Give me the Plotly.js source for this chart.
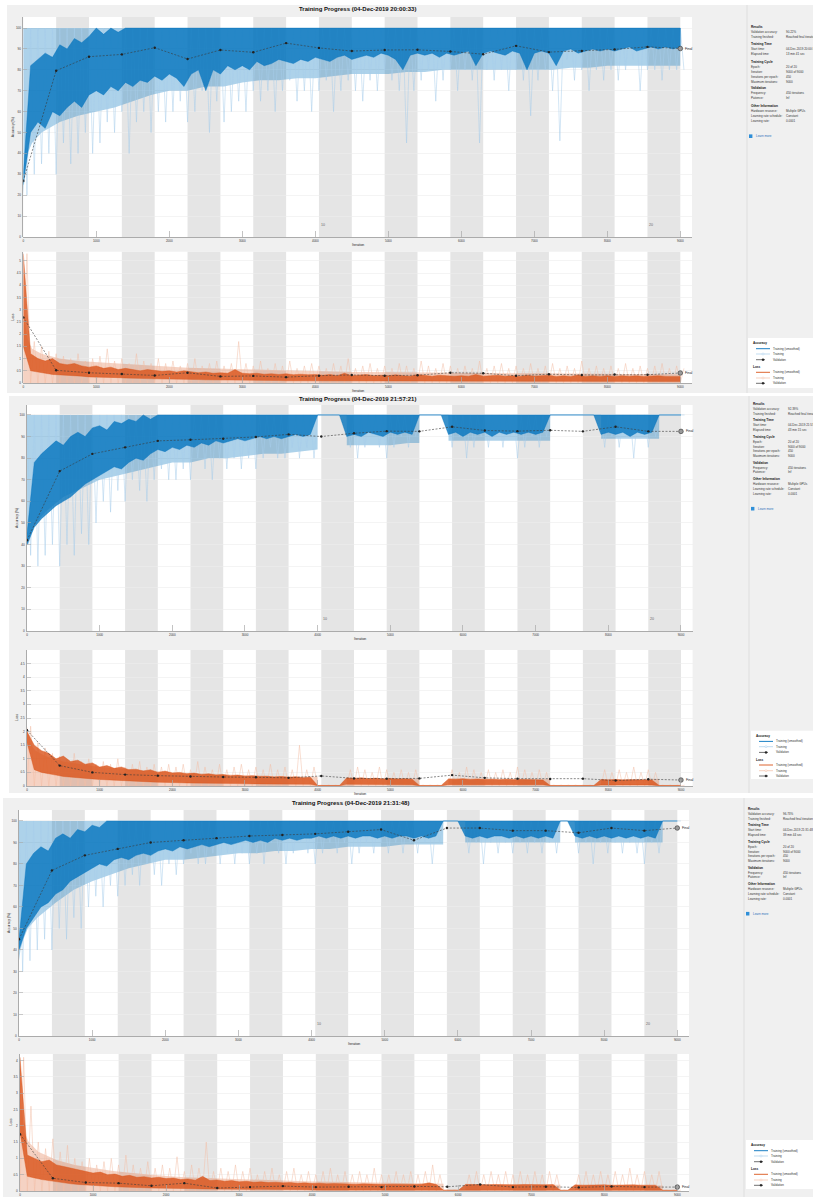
<!DOCTYPE html>
<html><head><meta charset="utf-8">
<script src="https://cdn.plot.ly/plotly-3.0.1.min.js"></script>
<style>html,body{margin:0;padding:0;background:#fff}#chart{width:813px;height:1197px}</style>
</head><body><div id="chart"></div>
<script>
// ---------------- DATA ----------------
const iterationsPerEpoch = 450;
const numEpochs = 20;
const maxIterations = 9000;
const validationFrequency = 450;
const rawStep = 100;            // spacing of the per-100-iteration readings
const xTickVals = [0,1000,2000,3000,4000,5000,6000,7000,8000,9000];
const epochLabels = [10, 20];
const titles = ["Training Progress (04-Dec-2019 20:00:33)","Training Progress (04-Dec-2019 21:57:21)","Training Progress (04-Dec-2019 21:31:48)"];

// iteration grids of the dense light (raw) mass readings
const p1Iter = [0,20,60,120,250,500,750,1000,1250,1500,1750,2000,2250,2500,2750,3000,3250,3500,3750,4000,4250,4500,4750,5000,5250,5500,5750,6000,6250,6500,6750,7000,7250,7500,7750,8000,8250,8500,8750,9000];
const p2Iter = [0,20,60,120,250,500,750,1000,1250,1500,1750,2000,2250,2500,2750,3000,3250,3500,3750,3999,4001,4399,4401,4750,5000,5250,5399,5401,5799,5801,6000,6250,6500,6750,7000,7199,7201,7899,7901,8250,8500,8699,8701,9000];
const p3Iter = [0,20,60,120,250,500,750,1000,1250,1500,1750,2000,2250,2500,2750,3000,3250,3500,3750,4000,4250,4500,4750,5000,5250,5500,5799,5801,6099,6101,6250,6500,6750,7000,7250,7399,7401,7599,7601,7750,8000,8250,8500,8799,8801,9000];

// ===== Run 1 =====
const p1AccBandLo = [20,30,40,45,50,55,58,60,62,65,68,70,70,72,72,74,75,75,76,76,77,78,78,78,79,79,80,80,80,80,80,80,80,81,81,82,82,82,82,82];
const p1AccSpike = [20,30,35,40,30,45,35,40,50,40, 45,55,50,60,40,55,60,50,60,55, 60,65,55,60,70,50,65,55,60,65, 60,70,65,70,60,70,75,65,70,60, 70,75,60,70,75,70,65,75,70,80, 75,70,45,70,75,80,65,75,80,70, 80,75,45,80,75,80,70,80,75,58, 75,80,70,46,85,75,80,70,80,75, 80,75,80,85,70,80,80,75,80,80, 80];
const p1AccTop = [30,82,85,88,86,92,90,95,93,96, 100,97,100,98,100,100,100,100,100,100, 100,100,100,100,100,100,100,100,100,100, 100,100,100,100,100,100,100,100,100,100, 100,100,100,100,100,100,100,100,100,100, 100,100,100,100,100,100,100,100,100,100, 100,100,100,100,100,100,100,100,100,100, 100,100,100,100,100,100,100,100,100,100, 100,100,100,100,100,100,100,100,100,100, 100];
const p1AccBot = [25,50,55,52,60,58,62,65,62,68, 70,68,72,70,74,72,75,74,77,75, 78,76,72,78,80,70,80,78,82,80, 82,80,84,82,83,85,84,83,85,84, 86,85,84,86,87,85,86,87,86,88, 87,85,80,87,88,87,88,86,88,87, 88,89,82,88,89,88,87,89,88,80, 88,89,88,82,89,90,88,89,90,89, 90,89,90,91,89,90,91,90,91,90, 91];
const p1AccVal = [26.8,79.6,86.3,87.4,90.6,85.2,89.5,88.4,92.8,90.5,89.0,89.5,89.6,88.8,87.5,91.5,88.5,89.0,89.8,91.0,90.22];
const p1LossBandHi = [5.3,2.5,1.8,1.4,1.2,1.0,0.9,0.85,0.8,0.75,0.7,0.65,0.62,0.6,0.58,0.55,0.52,0.5,0.5,0.48,0.46,0.45,0.45,0.44,0.43,0.42,0.42,0.41,0.4,0.4,0.4,0.4,0.39,0.38,0.38,0.38,0.37,0.37,0.36,0.36];
const p1LossSpike = [5.3,1.7,1.5,1.3,1.2,1.1,1.0,1.2,0.9,1.0, 1.1,1.4,0.9,1.0,0.8,1.2,0.9,0.8,1.0,0.8, 0.9,0.7,0.8,1.0,0.7,0.8,0.9,0.7,0.8,1.7, 0.8,0.7,0.9,0.6,0.8,0.7,0.9,0.6,0.7,0.8, 0.7,0.6,0.8,0.7,1.0,0.6,0.7,0.8,0.6,0.7, 0.6,0.8,0.7,0.6,0.9,0.7,0.6,0.8,0.7,0.6, 0.7,0.6,0.9,0.6,0.7,0.8,0.6,0.7,0.6,0.8, 0.6,0.7,0.8,0.6,0.7,0.6,0.9,0.6,0.7,0.6, 0.7,0.6,0.8,0.6,0.7,0.6,0.7,0.8,0.6,0.7, 0.6];
const p1LossTop = [5.3,1.2,1.0,0.9,1.0,0.8,0.75,0.8,0.7,0.65, 0.7,0.6,0.65,0.55,0.6,0.55,0.5,0.55,0.5,0.48, 0.5,0.45,0.5,0.45,0.42,0.45,0.4,0.42,0.4,0.55, 0.4,0.38,0.4,0.36,0.38,0.35,0.38,0.34,0.36,0.34, 0.35,0.32,0.35,0.3,0.4,0.3,0.32,0.35,0.3,0.32, 0.3,0.34,0.3,0.28,0.35,0.3,0.28,0.32,0.3,0.28, 0.3,0.28,0.35,0.28,0.3,0.32,0.28,0.3,0.27,0.32, 0.28,0.3,0.32,0.27,0.3,0.27,0.33,0.27,0.3,0.27, 0.3,0.27,0.3,0.28,0.3,0.27,0.29,0.3,0.27,0.28, 0.27];
const p1LossBot = [1.5,0.5,0.45,0.4,0.35,0.35,0.3,0.3,0.28,0.25, 0.25,0.24,0.22,0.22,0.2,0.2,0.18,0.18,0.17,0.16, 0.16,0.15,0.15,0.14,0.14,0.13,0.13,0.12,0.12,0.12, 0.11,0.11,0.1,0.1,0.1,0.1,0.09,0.09,0.09,0.09, 0.08,0.08,0.08,0.08,0.08,0.08,0.08,0.08,0.08,0.08, 0.07,0.07,0.07,0.07,0.07,0.07,0.07,0.07,0.07,0.07, 0.07,0.06,0.06,0.06,0.06,0.06,0.06,0.06,0.06,0.06, 0.06,0.06,0.06,0.06,0.06,0.06,0.06,0.06,0.06,0.06, 0.06,0.06,0.06,0.06,0.06,0.06,0.06,0.06,0.06,0.06, 0.06];
const p1LossVal = [2.69,0.52,0.42,0.37,0.31,0.42,0.27,0.29,0.24,0.3,0.33,0.3,0.32,0.42,0.4,0.3,0.36,0.33,0.35,0.34,0.41];

// ===== Run 2 =====
const p2AccBandLo = [40,40,45,50,55, 62,66,70,72,74,76,78,78,80,80,81,82,82,83, 84,100,100,86, 86,86,87, 87,100,100,88, 88,88,88,88,88, 88,100,100,89, 89,89, 89,100,100];
const p2AccSpike = [35,30,35,40,30,40,35,45,40,50, 60,55,65,60,70,65,60,70,75,70, 70,75,70,80,75,70,80,75,80,75, 80,75,80,85,80,80,85,80,85,80, 100,100,100,100,85,80,85,90,85,80, 85,90,85,90,100,100,100,100,85,90, 80,85,90,85,90,85,90,80,85,90, 85,90,100,100,100,100,100,100,100,85, 90,85,90,80,90,85,90,100,100,100, 100];
const p2AccTop = [45,78,82,85,88,86,90,92,90,94, 95,93,97,96,98,97,100,98,100,100, 100,100,100,100,100,100,100,100,100,100, 100,100,100,100,100,100,100,100,100,100, 100,100,100,100,100,100,100,100,100,100, 100,100,100,100,100,100,100,100,100,100, 100,100,100,100,100,100,100,100,100,100, 100,100,100,100,100,100,100,100,100,100, 100,100,100,100,100,100,100,100,100,100, 100];
const p2AccBot = [40,48,52,55,58,60,62,65,68,70, 72,74,76,75,78,80,79,82,84,83, 85,84,86,85,87,86,88,87,88,89, 88,89,90,89,90,89,90,91,90,91, 100,100,100,100,90,91,90,92,91,90, 92,91,92,91,100,100,100,100,91,92, 90,92,91,92,90,92,91,92,91,92, 91,92,100,100,100,100,100,100,100,91, 92,91,92,90,92,91,92,100,100,100, 100];
const p2AccVal = [42,74,82,85,88,88.5,89,89.8,91,90,91.5,92.5,92.4,94.5,92.8,92.5,92.9,92.4,94.5,92.4,92.39];
const p2LossBandHi = [2.2,1.9,1.5,1.3,1.1, 0.9,0.8,0.7,0.65,0.6,0.55,0.5,0.48,0.45,0.42,0.4,0.38,0.36,0.35, 0.34,0.03,0.03,0.3, 0.3,0.3,0.28, 0.28,0.03,0.03,0.28, 0.28,0.27,0.27,0.27,0.26, 0.26,0.03,0.03,0.26, 0.26,0.26, 0.26,0.03,0.03];
const p2LossSpike = [2.2,1.6,1.4,1.2,1.1,1.0,1.2,0.9,1.0,0.8, 0.9,0.8,1.0,0.7,0.8,0.9,0.7,0.8,0.7,0.8, 0.7,0.8,0.6,0.9,0.7,0.6,0.8,0.6,0.7,0.8, 0.6,0.7,0.6,0.8,0.6,0.7,0.6,1.5,0.6,0.7, 0.03,0.03,0.03,0.03,0.6,0.7,0.6,0.5,0.7,0.6, 0.5,0.6,0.5,0.6,0.03,0.03,0.03,0.03,0.6,0.5, 0.7,0.6,0.5,0.6,0.5,0.6,0.5,0.7,0.6,0.5, 0.6,0.5,0.03,0.03,0.03,0.03,0.03,0.03,0.03,0.6, 0.5,0.6,0.5,0.7,0.5,0.6,0.5,0.03,0.03,0.03, 0.03];
const p2LossTop = [2.0,1.5,1.3,1.2,1.0,1.1,0.9,0.95,0.8,0.85, 0.7,0.75,0.65,0.7,0.6,0.62,0.55,0.6,0.5,0.55, 0.48,0.5,0.45,0.48,0.42,0.45,0.4,0.42,0.38,0.4, 0.36,0.38,0.35,0.36,0.33,0.35,0.32,0.34,0.3,0.32, 0.02,0.02,0.02,0.02,0.3,0.28,0.3,0.27,0.29,0.26, 0.28,0.26,0.27,0.25,0.02,0.02,0.02,0.02,0.26,0.25, 0.27,0.24,0.26,0.24,0.25,0.23,0.25,0.23,0.24,0.23, 0.24,0.22,0.02,0.02,0.02,0.02,0.02,0.02,0.02,0.24, 0.22,0.24,0.22,0.23,0.22,0.23,0.22,0.02,0.02,0.02, 0.02];
const p2LossBot = [1.6,0.6,0.5,0.45,0.4,0.35,0.32,0.3,0.28,0.26, 0.24,0.22,0.2,0.19,0.18,0.17,0.16,0.15,0.14,0.13, 0.12,0.12,0.11,0.11,0.1,0.1,0.1,0.09,0.09,0.09, 0.08,0.08,0.08,0.08,0.07,0.07,0.07,0.07,0.06,0.06, 0.01,0.01,0.01,0.01,0.06,0.06,0.05,0.05,0.05,0.05, 0.05,0.05,0.05,0.05,0.01,0.01,0.01,0.01,0.05,0.05, 0.05,0.05,0.05,0.05,0.05,0.05,0.05,0.05,0.05,0.05, 0.05,0.05,0.01,0.01,0.01,0.01,0.01,0.01,0.01,0.04, 0.04,0.04,0.04,0.04,0.04,0.04,0.04,0.01,0.01,0.01, 0.01];
const p2LossVal = [2.05,0.75,0.5,0.42,0.38,0.35,0.33,0.32,0.3,0.37,0.28,0.27,0.28,0.4,0.3,0.27,0.26,0.27,0.2,0.25,0.22];

// ===== Run 3 =====
const p3AccBandLo = [35,40,45,50,55, 62,68,72,75,78,80,82,82,83,84,85,85,86,86,87,87,88,88,88,89,89, 89,100,100,90, 90,90,90,90,90, 90,100,100,90, 90,90,90,90, 90,100,100];
const p3AccSpike = [30,35,40,45,40,50,45,55,50,60, 65,60,70,65,70,75,70,80,75,70, 80,75,80,85,80,80,85,80,85,80, 85,80,85,80,90,85,80,85,90,85, 80,85,90,85,90,80,85,90,85,90, 85,90,85,90,85,90,80,90,100,100, 100,85,90,80,90,85,90,85,90,85, 90,85,90,85,100,100,85,90,80,90, 85,90,85,90,85,80,90,85,100,100, 100];
const p3AccTop = [45,80,85,88,86,92,94,92,96,95, 98,97,100,100,100,100,100,100,100,100, 100,100,100,100,100,100,100,100,100,100, 100,100,100,100,100,100,100,100,100,100, 100,100,100,100,100,100,100,100,100,100, 100,100,100,100,100,100,100,100,100,100, 100,100,100,100,100,100,100,100,100,100, 100,100,100,100,100,100,100,100,100,100, 100,100,100,100,100,100,100,100,100,100, 100];
const p3AccBot = [40,50,55,60,62,66,68,72,74,76, 78,80,79,82,83,82,84,85,84,86, 87,86,88,87,88,89,88,89,90,89, 90,91,90,91,90,92,91,92,91,92, 92,93,92,93,92,93,92,93,93,92, 93,92,93,93,92,93,92,93,100,100, 100,93,92,93,92,93,93,92,93,92, 93,92,93,92,100,100,93,92,93,92, 93,92,93,92,93,92,93,92,100,100, 100];
const p3AccVal = [45,77,84,87,90,91,92,93,93.5,94,95,96,91,96.7,96.7,95.5,95.5,94.5,96.7,95.5,96.73];
const p3LossBandHi = [4.1,2.6,1.8,1.5,1.2, 0.95,0.8,0.7,0.62,0.56,0.5,0.46,0.42,0.4,0.38,0.35,0.33,0.31,0.3,0.29,0.28,0.27,0.26,0.25,0.24,0.23, 0.22,0.03,0.03,0.22, 0.21,0.2,0.2,0.2,0.19, 0.19,0.03,0.03,0.18, 0.18,0.18,0.17,0.17, 0.17,0.03,0.03];
const p3LossSpike = [4.1,2.6,1.5,1.3,1.6,1.2,1.4,1.0,0.9,1.0, 0.8,0.9,1.0,0.8,1.1,0.8,0.7,0.9,0.7,0.8, 0.7,1.05,0.6,0.8,0.7,1.5,0.6,0.7,0.6,0.8, 0.6,0.7,0.5,0.6,0.7,0.5,0.6,0.7,0.5,0.6, 0.5,0.6,0.7,0.5,0.6,0.5,0.6,0.5,0.7,0.5, 0.5,0.6,0.5,0.6,0.5,0.6,0.8,0.5,0.03,0.03, 0.03,0.5,0.6,0.5,0.6,0.5,0.6,0.5,0.6,0.5, 0.6,0.5,0.6,0.5,0.03,0.03,0.5,0.6,0.5,0.6, 0.5,0.6,0.5,0.7,0.5,0.6,0.5,0.6,0.03,0.03, 0.03];
const p3LossTop = [4.1,1.1,1.0,0.9,0.95,0.8,0.75,0.7,0.65,0.6, 0.55,0.58,0.5,0.52,0.45,0.48,0.42,0.44,0.4,0.42, 0.38,0.4,0.35,0.37,0.33,0.45,0.32,0.34,0.3,0.32, 0.28,0.3,0.27,0.28,0.26,0.27,0.25,0.26,0.24,0.25, 0.23,0.24,0.22,0.23,0.22,0.23,0.21,0.22,0.21,0.22, 0.2,0.21,0.2,0.21,0.2,0.21,0.25,0.2,0.02,0.02, 0.02,0.2,0.19,0.2,0.19,0.2,0.19,0.2,0.19,0.2, 0.19,0.2,0.19,0.2,0.02,0.02,0.19,0.18,0.19,0.18, 0.19,0.18,0.19,0.18,0.19,0.18,0.19,0.18,0.02,0.02, 0.02];
const p3LossBot = [1.8,0.45,0.4,0.35,0.3,0.28,0.25,0.22,0.2,0.18, 0.16,0.15,0.14,0.13,0.12,0.11,0.1,0.1,0.09,0.09, 0.08,0.08,0.07,0.07,0.07,0.06,0.06,0.06,0.05,0.05, 0.05,0.05,0.05,0.04,0.04,0.04,0.04,0.04,0.04,0.04, 0.03,0.03,0.03,0.03,0.03,0.03,0.03,0.03,0.03,0.03, 0.03,0.03,0.03,0.03,0.03,0.03,0.03,0.03,0.01,0.01, 0.01,0.03,0.03,0.03,0.03,0.03,0.03,0.03,0.03,0.03, 0.03,0.03,0.03,0.03,0.01,0.01,0.03,0.03,0.03,0.03, 0.03,0.03,0.03,0.03,0.03,0.03,0.03,0.03,0.01,0.01, 0.01];
const p3LossVal = [1.74,0.39,0.26,0.24,0.16,0.24,0.09,0.12,0.15,0.12,0.13,0.12,0.14,0.13,0.2,0.12,0.13,0.11,0.14,0.12,0.12];

// ---- side panel texts ----
const sideValAcc = ["90.22%","92.39%","96.73%"];
const sideStart = ["04-Dec-2019 20:00:33","04-Dec-2019 21:57:21","04-Dec-2019 21:31:48"];
const sideElapsed = ["13 min 41 sec","43 min 15 sec","39 min 44 sec"];
const legendAccItems = ["Training (smoothed)","Training","Validation"];
const legendLossItems = ["Training (smoothed)","Training","Validation"];

// ---------------- GEOMETRY / STYLE ----------------
const W = 813, H = 1197;
const FONT = "Liberation Sans, Arial, sans-serif";
const accDark = "#0072bd", accRaw = "#a6cdea", accBand = "rgba(0,114,189,0.32)", accDarkFill = "rgba(0,114,189,0.78)";
const lossDark = "#d95319", lossRaw = "#f2bea6", lossBand = "rgba(217,83,25,0.26)", lossDarkFill = "rgba(217,83,25,0.8)";
const panels = [
  {fig:[7,5,813,393], title:[357,9], acc:{x0:23.3,x1:692,y0:17,y1:237,ymax:105.3}, loss:{x0:23.3,x1:692,y0:251.7,y1:383,ymax:5.38,ytop:5},
   side:{x:749,y:27.3,s:1.04,div:747}, leg:[748,338,813,388], iter:p1Iter,
   d:{accBandLo:p1AccBandLo,accSpike:p1AccSpike,accTop:p1AccTop,accBot:p1AccBot,accVal:p1AccVal,lossBandHi:p1LossBandHi,lossSpike:p1LossSpike,lossTop:p1LossTop,lossBot:p1LossBot,lossVal:p1LossVal}},
  {fig:[9,396,813,793], title:[357,399], acc:{x0:27,x1:692.6,y0:405,y1:631,ymax:104.6}, loss:{x0:27,x1:692.6,y0:650,y1:786,ymax:5.0,ytop:4.5},
   side:{x:751,y:404,s:1,div:749}, leg:[751,730.7,813,779], iter:p2Iter,
   d:{accBandLo:p2AccBandLo,accSpike:p2AccSpike,accTop:p2AccTop,accBot:p2AccBot,accVal:p2AccVal,lossBandHi:p2LossBandHi,lossSpike:p2LossSpike,lossTop:p2LossTop,lossBot:p2LossBot,lossVal:p2LossVal}},
  {fig:[3,798,813,1197], title:[350,803], acc:{x0:19,x1:689,y0:810,y1:1036,ymax:105.1}, loss:{x0:20,x1:689,y0:1054,y1:1191,ymax:4.2,ytop:4},
   side:{x:746,y:809,s:1,div:744}, leg:[746,1140,813,1189], iter:p3Iter,
   d:{accBandLo:p3AccBandLo,accSpike:p3AccSpike,accTop:p3AccTop,accBot:p3AccBot,accVal:p3AccVal,lossBandHi:p3LossBandHi,lossSpike:p3LossSpike,lossTop:p3LossTop,lossBot:p3LossBot,lossVal:p3LossVal}}
];
const xMax = 9160;

const px = x => x / W;
const py = y => 1 - y / H;

const validationIter = [];
for (let it = 0; it <= maxIterations; it += validationFrequency) validationIter.push(it);
const rawIter = [];
for (let it = 0; it <= maxIterations; it += rawStep) rawIter.push(it);

const traces = [], shapes = [], annotations = [];
const layout = {
  width: W, height: H, margin: {l:0,r:0,t:0,b:0},
  paper_bgcolor: "#ffffff", plot_bgcolor: "rgba(0,0,0,0)",
  showlegend: false, font: {family: FONT, size: 3, color: "#333"}
};

function txt(x, y, text, opts) {
  annotations.push(Object.assign({xref:"paper", yref:"paper", x:px(x), y:py(y), text:text, showarrow:false,
    xanchor:"left", yanchor:"middle", font:{family:FONT, size:3, color:"#222"}}, opts||{}));
}
function rect(x0,y0,x1,y1,fill) {
  shapes.push({type:"rect", xref:"paper", yref:"paper", x0:px(x0), x1:px(x1), y0:py(y1), y1:py(y0),
    fillcolor:fill, line:{width:0}, layer:"below"});
}
function seg(x0,y0,x1,y1,color,w,dash) {
  shapes.push({type:"line", xref:"paper", yref:"paper", x0:px(x0), x1:px(x1), y0:py(y0), y1:py(y1),
    line:{color:color, width:w, dash:dash||"solid"}, layer:"above"});
}
function massBand(iter, edgeVals, constEdge, xa, ya, fill) {
  const xs = iter.concat(iter.slice().reverse());
  const ys = edgeVals.concat(iter.map(() => constEdge));
  traces.push({x:xs, y:ys, xaxis:xa, yaxis:ya, type:"scatter", mode:"lines", fill:"toself",
    fillcolor:fill, line:{width:0}, hoverinfo:"skip"});
}
function spikes(values, base, xa, ya, color) {
  const xs = [], ys = [];
  values.forEach((v,i) => { xs.push(rawIter[i]); ys.push(base); xs.push(rawIter[i] + rawStep/2); ys.push(v); });
  traces.push({x:xs, y:ys, xaxis:xa, yaxis:ya, type:"scatter", mode:"lines", line:{width:0.5, color:color}, hoverinfo:"skip"});
}
function smoothed(top, bot, xa, ya, fill, color) {
  const xs = rawIter.concat(rawIter.slice().reverse());
  const ys = top.concat(bot.slice().reverse());
  traces.push({x:xs, y:ys, xaxis:xa, yaxis:ya, type:"scatter", mode:"lines", fill:"toself",
    fillcolor:fill, line:{width:0.4, color:color}, hoverinfo:"skip"});
}
function validation(values, xa, ya) {
  traces.push({x:validationIter, y:values, xaxis:xa, yaxis:ya, type:"scatter", mode:"lines+markers",
    line:{color:"#3a3a3a", width:0.6, dash:"2px,1.5px"}, marker:{size:2.4, color:"#222"}, hoverinfo:"skip"});
  const n = values.length - 1;
  traces.push({x:[validationIter[n]], y:[values[n]], xaxis:xa, yaxis:ya, type:"scatter", mode:"markers",
    marker:{size:4.6, color:"#9a9a9a", line:{color:"#333", width:0.6}}, hoverinfo:"skip"});
  annotations.push({xref:xa, yref:ya, x:validationIter[n], y:values[n], text:"Final", showarrow:false,
    xanchor:"left", yanchor:"middle", xshift:3, font:{family:FONT, size:3.4, color:"#222"}});
}

panels.forEach((p, k) => {
  const d = p.d;
  rect(p.fig[0], p.fig[1], p.fig[2], p.fig[3], "#f0f0f0");
  rect(p.acc.x0, p.acc.y0, p.acc.x1, p.acc.y1, "#ffffff");
  rect(p.loss.x0, p.loss.y0, p.loss.x1, p.loss.y1, "#ffffff");
  seg(p.side.div, p.fig[1], p.side.div, p.fig[3], "#d9d9d9", 0.8);
  txt(p.title[0], p.title[1], "<b>" + titles[k] + "</b>", {xanchor:"center", font:{family:FONT, size:6, color:"#111"}});

  const ia = 2*k + 1, il = 2*k + 2;
  const xa = "x" + ia, ya = "y" + ia, xl = "x" + il, yl = "y" + il;
  const xaxisCommon = {range:[0, xMax], tickvals:xTickVals, ticks:"inside", ticklen:6, tickwidth:0.7, tickcolor:"#aaaaaa",
    showline:true, linecolor:"#9a9a9a", linewidth:0.8, showgrid:false, zeroline:false,
    tickfont:{family:FONT, size:3, color:"#333"}, fixedrange:true, ticklabelstandoff:1};
  layout["xaxis" + ia] = Object.assign({}, xaxisCommon, {domain:[px(p.acc.x0), px(p.acc.x1)], anchor:ya});
  layout["xaxis" + il] = Object.assign({}, xaxisCommon, {domain:[px(p.loss.x0), px(p.loss.x1)], anchor:yl});
  const yCommon = {ticks:"inside", ticklen:4, tickwidth:0.6, tickcolor:"#aaaaaa", showline:true, linecolor:"#9a9a9a", linewidth:0.8,
    showgrid:true, gridcolor:"#ececec", gridwidth:0.6, zeroline:false, tickfont:{family:FONT, size:3, color:"#333"}, fixedrange:true, ticklabelstandoff:1};
  layout["yaxis" + ia] = Object.assign({}, yCommon, {domain:[py(p.acc.y1), py(p.acc.y0)], range:[0, p.acc.ymax], tickvals:[0,10,20,30,40,50,60,70,80,90,100], anchor:xa});
  const lossTicks = []; for (let v = 0; v <= p.loss.ytop + 1e-9; v += 0.5) lossTicks.push(Math.round(v*10)/10);
  layout["yaxis" + il] = Object.assign({}, yCommon, {domain:[py(p.loss.y1), py(p.loss.y0)], range:[0, p.loss.ymax], tickvals:lossTicks, anchor:xl});

  for (let e = 2; e <= numEpochs; e += 2) {
    [[xa, ya], [xl, yl]].forEach(([xx, yy]) => {
      shapes.push({type:"rect", xref:xx, yref:yy + " domain", x0:(e-1)*iterationsPerEpoch, x1:e*iterationsPerEpoch, y0:0, y1:1,
        fillcolor:"#e5e5e5", line:{width:0}, layer:"below"});
    });
  }
  epochLabels.forEach(e => {
    annotations.push({xref:xa, yref:ya + " domain", x:(e-1)*iterationsPerEpoch, y:0.035, text:String(e), showarrow:false,
      xanchor:"left", yanchor:"bottom", font:{family:FONT, size:3.6, color:"#666"}});
  });

  massBand(p.iter, d.accBandLo, 100, xa, ya, accBand);
  spikes(d.accSpike, 100, xa, ya, accRaw);
  smoothed(d.accTop, d.accBot, xa, ya, accDarkFill, accDark);
  validation(d.accVal, xa, ya);
  massBand(p.iter, d.lossBandHi, 0, xl, yl, lossBand);
  spikes(d.lossSpike, 0, xl, yl, lossRaw);
  smoothed(d.lossTop, d.lossBot, xl, yl, lossDarkFill, lossDark);
  validation(d.lossVal, xl, yl);

  txt((p.acc.x0 + p.acc.x1)/2, p.acc.y1 + 8, "Iteration", {xanchor:"center", font:{family:FONT, size:3.4, color:"#222"}});
  txt((p.loss.x0 + p.loss.x1)/2, p.loss.y1 + 8, "Iteration", {xanchor:"center", font:{family:FONT, size:3.4, color:"#222"}});
  txt(p.acc.x0 - 10, (p.acc.y0 + p.acc.y1)/2, "Accuracy (%)", {xanchor:"center", textangle:-90, font:{family:FONT, size:3.4, color:"#222"}});
  txt(p.loss.x0 - 10, (p.loss.y0 + p.loss.y1)/2, "Loss", {xanchor:"center", textangle:-90, font:{family:FONT, size:3.4, color:"#222"}});

  const s = p.side, sx = s.x, vx = s.x + 35;
  const rows = [
    ["h","Results",0],["r","Validation accuracy:",4.8,sideValAcc[k]],["r","Training finished:",9.6,"Reached final iteration"],
    ["h","Training Time",16],["r","Start time:",20.8,sideStart[k]],["r","Elapsed time:",25.6,sideElapsed[k]],
    ["h","Training Cycle",33],["r","Epoch:",37.8,"20 of 20"],["r","Iteration:",42.6,"9000 of 9000"],["r","Iterations per epoch:",47.4,"450"],["r","Maximum iterations:",52.2,"9000"],
    ["h","Validation",58.7],["r","Frequency:",63.5,"450 iterations"],["r","Patience:",68.3,"Inf"],
    ["h","Other Information",75.3],["r","Hardware resource:",80.1,"Multiple GPUs"],["r","Learning rate schedule:",84.9,"Constant"],["r","Learning rate:",89.7,"0.0001"]
  ];
  rows.forEach(r => {
    const y = s.y + r[2]*s.s;
    if (r[0] === "h") txt(sx, y, "<b>" + r[1] + "</b>", {font:{family:FONT, size:3.2, color:"#111"}});
    else { txt(sx, y, r[1], {font:{family:FONT, size:3, color:"#333"}}); txt(vx, y, r[3], {font:{family:FONT, size:3, color:"#333"}}); }
  });
  const lmY = s.y + 104.7*s.s;
  rect(sx, lmY - 1.8, sx + 3.4, lmY + 1.8, "#2f8fd8");
  txt(sx + 4.5, lmY, "Learn more", {font:{family:FONT, size:3, color:"#1f6fb8"}});

  const L = p.leg;
  rect(L[0], L[1], L[2], L[3], "#ffffff");
  const lx0 = L[0] + 8, lx1 = L[0] + 22, tx = L[0] + 23;
  const items = [
    ["h","Accuracy",5],["s",legendAccItems[0],10.7,accDark],["r",legendAccItems[1],16,accRaw],["v",legendAccItems[2],21.7],
    ["h","Loss",29],["s",legendLossItems[0],34.3,lossDark],["r",legendLossItems[1],40,lossRaw],["v",legendLossItems[2],45.3]
  ];
  items.forEach(it => {
    const y = L[1] + it[2];
    if (it[0] === "h") { txt(L[0] + 3, y, "<b>" + it[1] + "</b>", {font:{family:FONT, size:3.1, color:"#111"}}); return; }
    if (it[0] === "s") seg(lx0, y, lx1, y, it[3], 0.9);
    if (it[0] === "r") { seg(lx0, y, lx1, y, it[3], 0.7); shapes.push({type:"circle", xref:"paper", yref:"paper", x0:px(lx0+6), x1:px(lx0+8), y0:py(y+1), y1:py(y-1), line:{color:it[3], width:0.5}, fillcolor:"#ffffff"}); }
    if (it[0] === "v") { seg(lx0, y, lx1, y, "#333", 0.7, "dash"); shapes.push({type:"circle", xref:"paper", yref:"paper", x0:px(lx0+6), x1:px(lx0+8), y0:py(y+1), y1:py(y-1), line:{color:"#222", width:0.5}, fillcolor:"#222"}); }
    txt(tx, y, it[1], {font:{family:FONT, size:3, color:"#333"}});
  });
});

layout.shapes = shapes;
layout.annotations = annotations;
Plotly.newPlot("chart", traces, layout, {staticPlot:true, displayModeBar:false});
</script>
</body></html>
